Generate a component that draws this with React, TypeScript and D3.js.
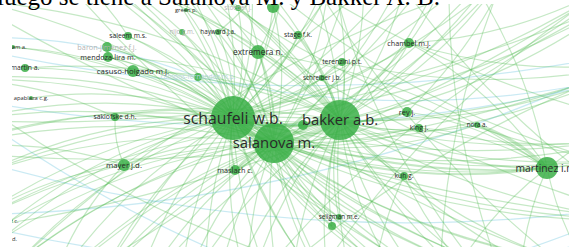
import React from 'react';
import * as d3 from 'd3';

const W = 569;
const H = 247;

const titleText = 'luego se tiene a Salanova M. y Bakker A. B.';

// Nodes (VOSviewer-like layout units)
const nodeIds = ['sch','sal','bak','n1','ext','cha','ter','sre','sta','rey','kin','nor','mar','kuh','sel','n2','mas','may','sak','apa','gra','mtn','sle','bar','men','cas','cam','grn','sto','tp1','nij','hay','rui','gol',
  'o1','o2','o3','o4','o5','o6','o7','o8','o9','o10','o11','o12','o13','o14','o15','o16','o17','o18','o19','o20','o21','o22','o23',
  'o24','o25','o26','o27','o28','o29','o30','o31','o32','o33','o34','o35','o36','o37','o38','o39','o40','o41',
  'q1','q2','q3','q4','q5','q6','q7','q8','q9','q10'];
const nodeLabels = ['schaufeli w.b.','salanova m.','bakker a.b.','','extremera n.','chambel m.j.','terenzini p.t.','schreiber j.b.','stage f.k.','rey j.','king j.','nora a.','martinez i.m.','kuh g.','seligman m.e.','','maslach c.','mayer j.d.','saklofske d.h.','apablaza c.g.','graham a.','martin a.','saleem m.s.','baron-jimenez f.j.','mendoza-lira m.','casuso-holgado m.j.','campos-fernández m.p.','green p.','stoeber j.','','nijo g.m.','hayward j.a.','ruiz c.','goleman d.'];
const nodeX = [-0.515,-0.105,0.555,0.185,-0.265,1.245,0.575,0.375,0.135,1.225,1.345,1.925,2.625,1.195,0.545,0.475,-0.495,-1.605,-1.695,-2.535,-2.715,-2.595,-1.565,-1.775,-1.765,-1.515,-0.865,-0.985,-0.465,-0.115,-1.025,-0.665,-2.74,-2.825,
  -2.445,-1.645,-0.845,0.055,0.755,1.655,2.455,3.355,3.655,3.855,3.655,3.255,2.355,1.555,0.855,0.055,-0.745,-1.545,-2.345,-3.245,-3.445,-3.345,-3.145,
  -1.845,-1.045,-0.345,0.455,1.155,1.955,2.755,-2.645,-1.845,-1.145,-0.345,0.455,1.255,2.155,-3.145,-3.045,3.155,3.355,
  -3.445,3.755,-3.345,3.655,-3.545,3.555,-3.445,3.655,-2.845,1.955];
const nodeY = [-0.055,0.195,-0.035,0.015,-0.715,-0.805,-0.615,-0.455,-0.885,-0.115,0.045,0.015,0.445,0.525,0.935,1.025,0.465,0.415,-0.065,-0.255,-0.765,-0.555,-0.875,-0.765,-0.665,-0.525,-0.465,-1.135,-1.155,-1.165,-0.915,-0.915,0.975,1.155,
  -1.735,-1.935,-2.135,-1.835,-2.035,-1.735,-2.035,-1.435,-0.635,0.065,0.965,1.765,1.965,1.765,2.165,1.965,2.165,1.865,1.665,1.065,0.265,-0.435,-1.235,
  1.565,1.765,1.665,1.665,1.565,1.465,1.365,1.365,-1.535,-1.635,-1.535,-1.535,-1.635,-1.435,-0.035,0.515,0.365,-1.235,
  -0.835,-0.785,-0.285,-0.535,0.215,0.815,0.915,1.085,1.965,2.065];
// weights of the visible nodes (others are outside the view)
const nodeWeight = [480,400,400,25,49,25,16,9,16,25,16,9,120,16,9,16,25,36,16,4,4,16,16,25,25,36,16,4,9,36,9,9,4,4];
// 0 normal label, 1 faded grey label, 2 faded blue label
const nodeFade = [0,0,0,0,0,0,0,0,0,0,0,0,0,0,0,0,0,0,0,0,0,0,0,1,0,0,2,0,1,0,1,0,0,0];

// Links: source, target, strength
const greenLinks: [string, string, number][] = [
  ['sch','sal',5],['sch','bak',5],['sal','bak',5],['sch','n1',2],['bak','n1',2],['sal','n1',1],
  ['sch','ext',2],['bak','ext',1],['sal','ext',2],['sch','cha',1],['bak','cha',1],['sal','cha',1],
  ['bak','ter',1],['sch','ter',1],['bak','sre',1],['sch','sre',1],['sch','sta',1],['bak','sta',1],
  ['sch','rey',1],['bak','rey',2],['sal','rey',1],['sch','kin',1],['bak','kin',1],['sal','kin',1],
  ['bak','nor',1],['sal','nor',1],['sch','mar',2],['bak','mar',2],['sal','mar',2],
  ['bak','kuh',1],['sch','kuh',1],['sch','sel',1],['bak','sel',1],['sal','n2',1],['bak','n2',1],
  ['sch','mas',2],['sal','mas',2],['bak','mas',1],['sch','may',1],['sal','may',1],
  ['sch','sak',1],['sal','sak',1],['sch','apa',1],['sch','gra',1],['sal','gra',1],
  ['sch','mtn',1],['bak','mtn',1],['sch','sle',1],['sal','sle',1],['sch','bar',1],['sal','bar',1],
  ['sch','men',1],['sal','men',1],['bak','men',1],['sch','cas',1],['sal','cas',1],['bak','cas',1],
  ['sch','cam',1],['sch','grn',1],['bak','grn',1],['sch','sto',1],['bak','sto',1],
  ['sch','tp1',1],['bak','tp1',1],['sal','tp1',1],['sch','nij',1],['sch','hay',1],['sal','hay',1],
  ['sch','rui',1],['sal','rui',1],['sch','gol',1],['sal','gol',1],
  ['sch','o1',1],['sch','o2',1],['sch','o3',1],['sch','o4',1],['sch','o5',1],['sch','o6',1],['sch','o7',1],['sch','o8',1],
  ['sch','o9',1],['sch','o10',1],['sch','o11',1],['sch','o12',1],['sch','o13',1],['sch','o14',1],['sch','o15',1],['sch','o16',1],
  ['sch','o17',1],['sch','o18',1],['sch','o19',1],['sch','o20',1],['sch','o21',1],['sch','o22',1],['sch','o23',1],
  ['sal','o1',1],['sal','o2',1],['sal','o3',1],['sal','o5',1],['sal','o7',1],['sal','o9',1],['sal','o10',1],['sal','o11',1],
  ['sal','o12',1],['sal','o13',1],['sal','o14',1],['sal','o15',1],['sal','o16',1],['sal','o17',1],['sal','o18',1],['sal','o19',1],
  ['sal','o20',1],['sal','o21',1],['sal','o22',1],
  ['bak','o1',1],['bak','o2',1],['bak','o4',1],['bak','o5',1],['bak','o6',1],['bak','o7',1],['bak','o8',1],['bak','o9',1],
  ['bak','o10',1],['bak','o11',1],['bak','o12',1],['bak','o13',1],['bak','o14',1],['bak','o15',1],['bak','o16',1],['bak','o17',1],
  ['bak','o18',1],['bak','o19',1],['bak','o20',1],['bak','o21',1],['bak','o23',1],
  ['sch','o24',1],['sch','o25',1],['sch','o26',1],['sch','o27',1],['sch','o28',1],['sch','o29',1],['sch','o30',1],['sch','o31',1],['sch','o32',1],
  ['sch','o33',1],['sch','o34',1],['sch','o35',1],['sch','o36',1],['sch','o37',1],['sch','o38',1],['sch','o39',1],['sch','o40',1],['sch','o41',1],
  ['sal','o24',1],['sal','o25',1],['sal','o26',1],['sal','o27',1],['sal','o28',1],['sal','o29',1],['sal','o30',1],['sal','o31',1],['sal','o32',1],
  ['sal','o33',1],['sal','o35',1],['sal','o36',1],['sal','o37',1],['sal','o38',1],['sal','o39',1],['sal','o40',1],
  ['bak','o24',1],['bak','o25',1],['bak','o26',1],['bak','o27',1],['bak','o28',1],['bak','o29',1],['bak','o30',1],['bak','o31',1],['bak','o32',1],
  ['bak','o33',1],['bak','o34',1],['bak','o35',1],['bak','o36',1],['bak','o37',1],['bak','o39',1],['bak','o40',1],['bak','o41',1],
  ['mar','nor',4],['mar','rey',1],['mar','kin',1],['mar','o9',1],['mar','o10',1],['mar','o12',1],['mar','o13',1],['mar','o6',1],
  ['mar','ext',1],['mar','cha',1],['mar','o14',1],['ext','o4',1],['ext','o2',1],['cha','o8',1],['cha','o9',1],['cha','o6',1],
  ['may','o19',1],['may','o20',1],['may','o21',1],['sak','o22',1],['sak','may',1],['cas','men',1],['men','bar',1],['sle','o1',1],
  ['kuh','o13',1],['kuh','o15',1],['rey','o7',1],['kin','o10',1],['ter','sre',1],['ter','o9',1],['sta','o5',1],['grn','o3',1],
  ['hay','o4',1],['tp1','o5',1],['tp1','o3',1],
  ['o2','o11',1],['o4','o12',1],['o7','o14',1],['o5','o11',1],['o6','o13',1],['o8','o16',1],['o3','o10',1],['o9','o17',1],
  ['o1','o13',1],['o23','o11',1],['o22','o14',1],['o21','o9',1],['o20','o8',1],['o19','o6',1],
  ['o32','o30',1],['o33','o40',1],['o36','o24',1],['o37','o31',1],['o41','o26',1],['o35','o29',1],['o34','o40',1],['o38','o41',1],
];
const blueLinks: [string, string, number][] = [
  ['q1','q2',1],['q3','q4',1],['q5','q6',1],['q7','q8',1],['cam','q1',1],['cam','q4',1],['q3','q10',1],['q9','q6',1],['q7','q2',1],
];

export default function App() {
  const x = d3.scaleLinear().domain([-2.845, 2.845]).range([0, W]);
  const y = d3.scaleLinear().domain([-1.235, 1.235]).range([0, H]);
  const r = d3.scaleSqrt().domain([0, 480]).range([0, 22]);
  const fs = (rad: number) => 4.8 + rad * 0.5;
  const w = d3.scaleLinear().domain([1, 5]).range([1.2, 4]);

  const idx = new Map(nodeIds.map((id, i) => [id, i]));
  const pos = (id: string) => {
    const i = idx.get(id)!;
    return [x(nodeX[i]), y(nodeY[i])];
  };
  const curve = (s: string, t: string) => {
    const [x1, y1] = pos(s);
    const [x2, y2] = pos(t);
    const dx = x2 - x1, dy = y2 - y1;
    const k = 0.12;
    const cx = (x1 + x2) / 2 - dy * k;
    const cy = (y1 + y2) / 2 + dx * k;
    const p = d3.path();
    p.moveTo(x1, y1);
    p.quadraticCurveTo(cx, cy, x2, y2);
    return p.toString();
  };

  const visible = nodeWeight.map((_, i) => i);
  const labelColor = ['#2a2a2a', '#b4b4b4', '#b9d6e0'];

  return (
    <svg width={W} height={H} style={{ position: 'absolute', left: 0, top: 0, background: '#fff' }}>
      <defs>
        <clipPath id="net">
          <rect x={12} y={4} width={W - 12} height={H - 4} />
        </clipPath>
      </defs>
      <g clipPath="url(#net)">
        <g fill="none">
          {blueLinks.map(([s, t, v], i) => (
            <path key={'b' + i} d={curve(s, t)} stroke="#9fd8ea" strokeOpacity={0.55} strokeWidth={w(v)} />
          ))}
          {greenLinks.map(([s, t, v], i) => (
            <path key={'g' + i} d={curve(s, t)} stroke="#55bb55" strokeOpacity={0.34} strokeWidth={w(v)} />
          ))}
        </g>
        <g>
          {visible.map((i) => (
            <circle key={'c' + i} cx={x(nodeX[i])} cy={y(nodeY[i])} r={r(nodeWeight[i])} fill="#38ae45" fillOpacity={0.84} />
          ))}
        </g>
        <g fontFamily="'Open Sans', sans-serif" textAnchor="middle">
          {visible.filter((i) => nodeLabels[i]).map((i) => {
            const rad = r(nodeWeight[i]);
            const f = fs(rad);
            return (
              <text key={'t' + i} x={x(nodeX[i])} y={y(nodeY[i])} dy="0.35em" fontSize={f} fill={labelColor[nodeFade[i]]}>
                {nodeLabels[i]}
              </text>
            );
          })}
        </g>
      </g>
      <text x={-3} y={4.5} fontFamily="'Liberation Serif', serif" fontSize={25} fill="#000">
        {titleText}
      </text>
    </svg>
  );
}
